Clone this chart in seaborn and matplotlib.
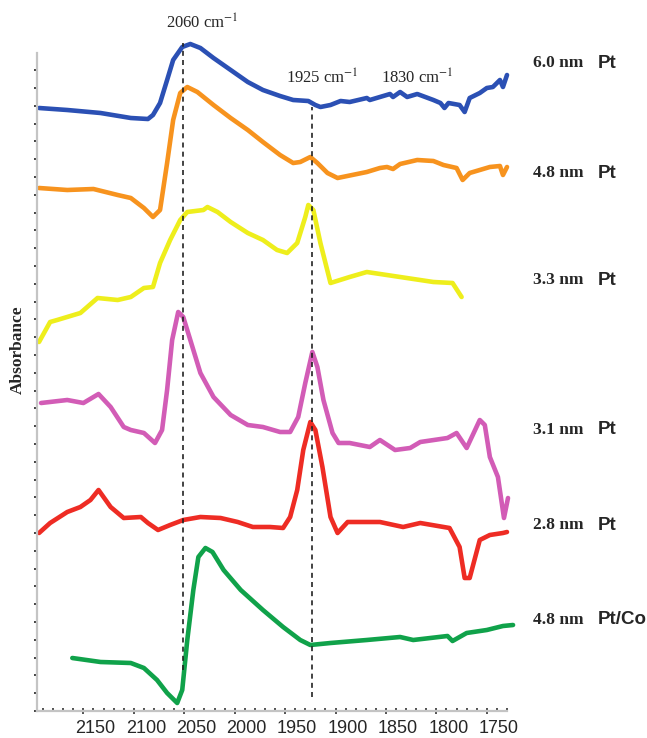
import numpy as np
import pandas as pd
import matplotlib
matplotlib.use('Agg')
import matplotlib.pyplot as plt
import matplotlib.transforms as mtransforms
from matplotlib.ticker import MultipleLocator, NullFormatter
import seaborn as sns

# wavenumbers (cm-1) and absorbance (arbitrary units, offset per spectrum)
pt60_wn = [2194, 2166, 2133, 2103, 2086, 2081, 2074, 2067, 2061, 2052, 2044, 2034, 2021, 2004, 1987,
           1972, 1955, 1942, 1927, 1920, 1915, 1905, 1895, 1886, 1869, 1866, 1856, 1846, 1843, 1836,
           1829, 1819, 1803, 1796, 1792, 1788, 1777, 1772, 1767, 1757, 1750, 1744, 1737, 1734, 1730]
pt60_abs = [603, 601, 598, 593, 592, 596, 608, 631, 651, 664, 667, 663, 653, 641, 629,
            621, 615, 611, 610, 606, 604, 606, 610, 609, 613, 611, 614, 617, 614, 619,
            614, 617, 611, 608, 603, 608, 606, 599, 613, 618, 623, 624, 631, 624, 636]

pt48_wn = [2194, 2166, 2140, 2116, 2103, 2090, 2081, 2074, 2067, 2061, 2054, 2047, 2037, 2021, 2004,
           1987, 1972, 1955, 1942, 1935, 1925, 1918, 1908, 1898, 1869, 1856, 1849, 1843, 1836, 1819,
           1803, 1793, 1780, 1774, 1767, 1757, 1747, 1737, 1734, 1730]
pt48_abs = [523, 521, 522, 516, 513, 503, 494, 501, 548, 591, 618, 624, 619, 606, 593,
            581, 569, 556, 548, 549, 554, 548, 538, 533, 539, 543, 544, 542, 547, 551,
            550, 546, 543, 531, 538, 541, 544, 545, 536, 544]

pt33_wn = [2194, 2183, 2176, 2153, 2136, 2116, 2103, 2090, 2081, 2074, 2064, 2054, 2047, 2031, 2027,
           2017, 2004, 1987, 1972, 1958, 1948, 1938, 1930, 1927, 1922, 1915, 1905, 1886, 1869, 1836,
           1803, 1784, 1775]
pt33_abs = [369, 389, 391, 398, 413, 411, 414, 423, 424, 448, 471, 491, 499, 501, 504,
            499, 489, 478, 471, 461, 458, 468, 494, 506, 501, 468, 428, 434, 439, 434,
            429, 428, 414]

pt31_wn = [2192, 2166, 2150, 2135, 2123, 2110, 2103, 2090, 2079, 2072, 2067, 2062, 2056, 2051, 2044,
           2034, 2021, 2004, 1987, 1972, 1955, 1945, 1937, 1930, 1923, 1918, 1912, 1903, 1897, 1886,
           1866, 1856, 1841, 1826, 1816, 1789, 1780, 1770, 1757, 1752, 1747, 1739, 1733, 1729]
pt31_abs = [308, 311, 308, 317, 304, 284, 281, 278, 268, 281, 321, 371, 399, 394, 371,
            338, 314, 296, 286, 284, 279, 279, 294, 328, 359, 344, 311, 278, 268, 268,
            264, 271, 261, 263, 269, 273, 278, 263, 291, 286, 254, 234, 193, 213]

pt28_wn = [2194, 2183, 2166, 2153, 2143, 2135, 2123, 2110, 2093, 2086, 2076, 2064, 2051, 2034, 2014,
           1997, 1982, 1965, 1952, 1945, 1938, 1932, 1925, 1920, 1913, 1905, 1898, 1888, 1856, 1833,
           1816, 1787, 1777, 1772, 1767, 1757, 1747, 1734, 1730]
pt28_abs = [178, 188, 199, 204, 211, 221, 204, 193, 194, 188, 181, 186, 191, 194, 193,
            189, 184, 184, 183, 194, 221, 261, 289, 281, 244, 194, 178, 189, 189, 184,
            188, 183, 164, 133, 133, 171, 176, 178, 179]

ptco_wn = [2161, 2133, 2103, 2090, 2077, 2067, 2057, 2052, 2047, 2041, 2036, 2029, 2022, 2011, 1994,
           1972, 1952, 1935, 1925, 1905, 1869, 1836, 1823, 1789, 1784, 1770, 1750, 1734, 1724]
ptco_abs = [53, 49, 48, 43, 31, 18, 8, 21, 71, 121, 154, 163, 159, 141, 121,
            101, 84, 71, 66, 68, 71, 74, 71, 75, 70, 78, 81, 85, 86]

series = [
    (pt60_wn, pt60_abs, '#2b50b4'),
    (pt48_wn, pt48_abs, '#f7931e'),
    (pt33_wn, pt33_abs, '#eeee1c'),
    (pt31_wn, pt31_abs, '#d25cb6'),
    (pt28_wn, pt28_abs, '#ee2c24'),
    (ptco_wn, ptco_abs, '#10a24a'),
]

# right-hand labels: (size, metal, y pixel)
labels = [('6.0 nm', 'Pt', 63), ('4.8 nm', 'Pt', 173), ('3.3 nm', 'Pt', 280),
          ('3.1 nm', 'Pt', 430), ('2.8 nm', 'Pt', 525), ('4.8 nm', 'Pt/Co', 620)]

marker_wn = [2051, 1923]
marker_lo = [41, 14]
marker_hi = [668, 604]

sns.set_style('ticks')
plt.rcParams['font.family'] = ['Liberation Sans', 'DejaVu Sans']
plt.rcParams['mathtext.fontset'] = 'stix'

W, H = 647, 738
fig = plt.figure(figsize=(W / 100, H / 100), dpi=100)
ax = fig.add_axes([37 / W, 27 / H, 470 / W, 658 / H])

for wn, ab, col in series:
    df = pd.DataFrame({'wn': wn, 'abs': ab})
    sns.lineplot(data=df, x='wn', y='abs', ax=ax, color=col, linewidth=3.3,
                 errorbar=None, clip_on=False, solid_capstyle='round', solid_joinstyle='round')

ax.vlines(marker_wn, marker_lo, marker_hi, colors='#222222', linestyles=(0, (3, 2.5)),
          linewidth=1.2, clip_on=False)

ax.set_xlim(2196, 1730)
ax.set_ylim(0, 658)

ax.xaxis.set_minor_locator(MultipleLocator(10))
ax.set_xticks(np.arange(2150, 1749, -50))
ax.yaxis.set_major_locator(MultipleLocator(17.8))
ax.yaxis.set_major_formatter(NullFormatter())
ax.tick_params(axis='x', which='major', direction='inout', length=5, width=1.2,
               color='#333333', labelsize=13, pad=4)
ax.tick_params(axis='x', which='minor', direction='in', length=2.5, width=1.2, color='#333333')
ax.tick_params(axis='y', which='major', direction='out', length=2.5, width=1.3, color='#333333')
offset = mtransforms.ScaledTranslation(12 / 100, 0, fig.dpi_scale_trans)
for lab in ax.get_xticklabels():
    lab.set_transform(lab.get_transform() + offset)

sns.despine(ax=ax)
for side in ['left', 'bottom']:
    ax.spines[side].set_color('#c4c4c4')
    ax.spines[side].set_linewidth(1.6)
ax.set_xlabel('')
ax.set_ylabel('')

serif = ['Liberation Serif', 'DejaVu Serif']
ax.text(2032, 688, r'2060 cm$^{-1}$', ha='center', va='center', fontsize=12, family=serif)
ax.text(1913, 633, r'1925 cm$^{-1}$', ha='center', va='center', fontsize=12, family=serif)
ax.text(1819, 633, r'1830 cm$^{-1}$', ha='center', va='center', fontsize=12, family=serif)

fig.text(18 / W, 1 - 350 / H, 'Absorbance', rotation=90, ha='center', va='center',
         fontsize=12.5, fontweight='bold', family=serif)

for size, metal, ypix in labels:
    fig.text(533 / W, 1 - ypix / H, size, ha='left', va='center', fontsize=12.5,
             fontweight='bold', family=serif)
    fig.text(598 / W, 1 - ypix / H, metal, ha='left', va='center', fontsize=13.5,
             fontweight='bold')

fig.savefig('out.png', dpi=100)
